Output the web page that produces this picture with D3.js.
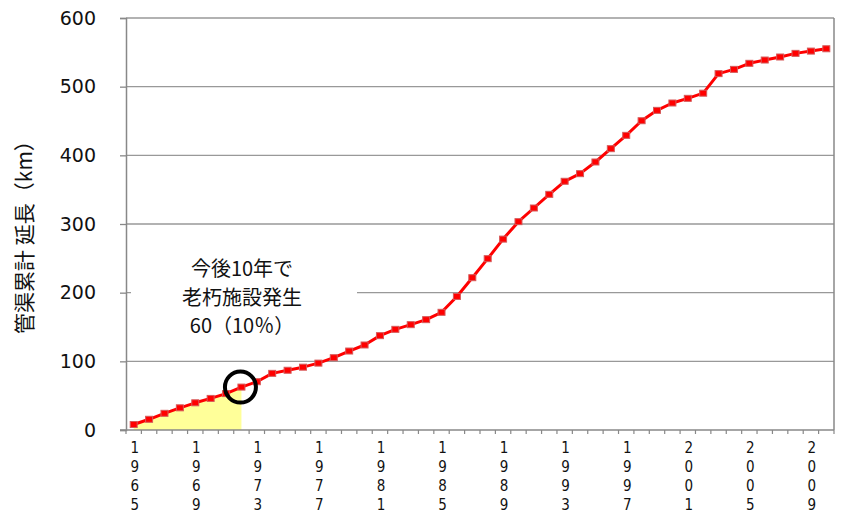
<!DOCTYPE html>
<html>
<head>
<meta charset="utf-8">
<script src="https://cdn.jsdelivr.net/npm/d3@7"></script>
<style>
  html, body { margin: 0; padding: 0; background: #fff; }
  svg { display: block; }
  .ytick { font-family: "DejaVu Sans", Verdana, sans-serif; font-size: 19px; fill: #111; }
  .xtick { font-family: "Liberation Sans Narrow", "DejaVu Sans Condensed", sans-serif; font-size: 15px; fill: #111; }
  .jp { font-family: "Noto Sans CJK JP", sans-serif; fill: #111; }
</style>
</head>
<body>
<svg id="chart" width="841" height="513"></svg>
<script>
/* 管渠累計延長 — cumulative sewer length by year */

const years = d3.range(1965, 2011);
const lengths = [
  8, 15.6, 24.3, 32.3, 39.6, 46, 53, 62.5, 70.3, 82.5,
  87, 91.5, 97.4, 105.3, 115, 123.8, 137.4, 146.6, 153.4, 160.7,
  171.4, 194.5, 221.8, 249.5, 278, 303.4, 323.3, 343.2, 362.2, 373.3,
  390.3, 409.7, 429.1, 450.4, 465.5, 476.2, 483, 490.5, 519, 525.2,
  534, 538.8, 543.2, 548.5, 551.8, 555.2
];
const yTicks = [0, 100, 200, 300, 400, 500, 600];
const labelYears = d3.range(1965, 2011, 4);
const agedUntil = 1972;   // yellow area: 1965–1972
const noteLines = ['今後10年で', '老朽施設発生', '60（10％）'];
const yTitle = '管渠累計 延長（km）';

const svg = d3.select('#chart');
const margin = { left: 126, right: 7, top: 18, bottom: 83 };
const W = 841, H = 513;

const x = d3.scaleBand().domain(years).range([margin.left, W - margin.right]);
const y = d3.scaleLinear().domain([0, 600]).range([H - margin.bottom, margin.top]);
const cx = d => x(d) + x.bandwidth() / 2;

const data = years.map((yr, i) => ({ yr, v: lengths[i] }));

// ============================================================
// Grid + frame
// ============================================================

svg.append('g')
  .selectAll('line')
  .data(yTicks.filter(t => t > 0))
  .join('line')
  .attr('x1', margin.left).attr('x2', W - margin.right)
  .attr('y1', d => y(d)).attr('y2', d => y(d))
  .attr('stroke', '#999').attr('stroke-width', 1.3);

// right frame line
svg.append('line')
  .attr('x1', W - margin.right).attr('x2', W - margin.right)
  .attr('y1', y(600)).attr('y2', y(0))
  .attr('stroke', '#888').attr('stroke-width', 1.5);

// ============================================================
// Yellow area (already aged part)
// ============================================================

const aged = data.filter(d => d.yr <= agedUntil);
svg.append('path')
  .datum(aged)
  .attr('fill', '#ffff99')
  .attr('d', d3.area().x(d => cx(d.yr)).y0(y(0)).y1(d => y(d.v)));

// ============================================================
// Axes
// ============================================================

const yAxis = svg.append('g')
  .attr('transform', `translate(${margin.left},0)`)
  .call(d3.axisLeft(y).tickValues(yTicks).tickSize(6).tickPadding(24).tickFormat(d3.format('d')));
yAxis.select('.domain').attr('stroke', '#888').attr('stroke-width', 1.5);
yAxis.selectAll('.tick line').attr('stroke', '#888').attr('stroke-width', 1.3);
yAxis.selectAll('.tick text').attr('class', 'ytick').attr('font-size', null).attr('font-family', null).attr('fill', null);

const xAxisG = svg.append('g').attr('transform', `translate(0,${y(0)})`);
xAxisG.append('line')
  .attr('x1', margin.left - 6).attr('x2', W - margin.right)
  .attr('stroke', '#888').attr('stroke-width', 1.5);
xAxisG.selectAll('.xt')
  .data(years.concat([null]))
  .join('line')
  .attr('class', 'xt')
  .attr('x1', (d, i) => margin.left + i * x.step())
  .attr('x2', (d, i) => margin.left + i * x.step())
  .attr('y1', 0).attr('y2', 4)
  .attr('stroke', '#888').attr('stroke-width', 1.2);

// vertical stacked year labels
const xl = xAxisG.selectAll('.xl')
  .data(labelYears)
  .join('text')
  .attr('class', 'xtick')
  .attr('text-anchor', 'middle')
  .attr('transform', d => `translate(${cx(d) + 1},0)`);
xl.selectAll('tspan')
  .data(d => String(d).split(''))
  .join('tspan')
  .attr('x', 0)
  .attr('y', (c, i) => 23 + i * 19)
  .text(c => c);

// ============================================================
// Annotation
// ============================================================

svg.append('rect')
  .attr('x', 131).attr('y', 248).attr('width', 226).attr('height', 98)
  .attr('fill', '#fff');

svg.append('text')
  .attr('class', 'jp')
  .attr('text-anchor', 'middle')
  .attr('font-size', 20)
  .selectAll('tspan')
  .data(noteLines)
  .join('tspan')
  .attr('x', 242)
  .attr('y', (d, i) => 276 + i * 28.5)
  .text(d => d);

// ============================================================
// Line + markers
// ============================================================

svg.append('path')
  .datum(data)
  .attr('fill', 'none')
  .attr('stroke', '#ff0000')
  .attr('stroke-width', 3)
  .attr('stroke-linejoin', 'round')
  .attr('d', d3.line().x(d => cx(d.yr)).y(d => y(d.v)));

svg.append('g')
  .selectAll('rect')
  .data(data)
  .join('rect')
  .attr('x', d => cx(d.yr) - 3.5)
  .attr('y', d => y(d.v) - 3)
  .attr('width', 7).attr('height', 6)
  .attr('fill', '#ff0000')
  .attr('stroke', '#d65a5a').attr('stroke-width', 1);

// circle on the 1972 point
const mark = data.find(d => d.yr === agedUntil);
svg.append('circle')
  .attr('cx', cx(mark.yr) - 1).attr('cy', y(mark.v))
  .attr('r', 15.5)
  .attr('fill', 'none')
  .attr('stroke', '#000').attr('stroke-width', 4);

// ============================================================
// Y title
// ============================================================

svg.append('text')
  .attr('class', 'jp')
  .attr('text-anchor', 'middle')
  .attr('font-size', 21)
  .attr('transform', 'translate(32,232) rotate(-90)')
  .text(yTitle);
</script>
</body>
</html>
